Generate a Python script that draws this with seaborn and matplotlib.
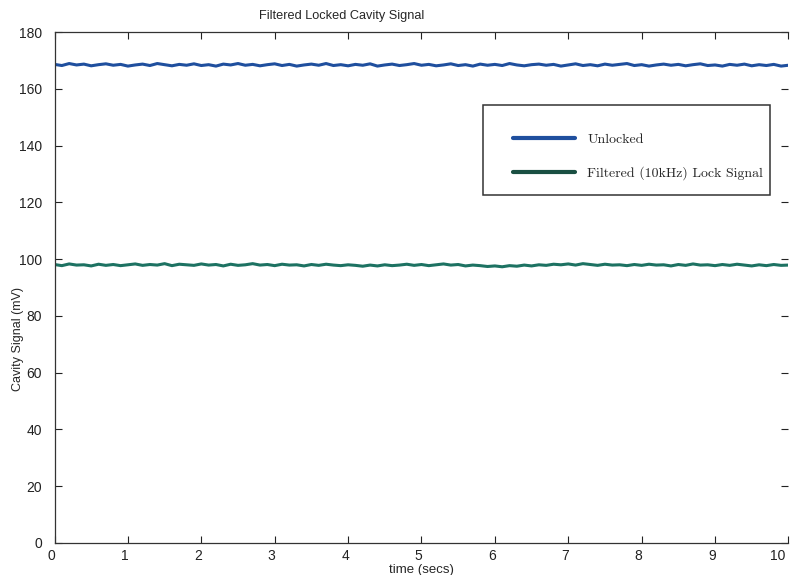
import matplotlib
matplotlib.use("Agg")
import matplotlib.pyplot as plt
from matplotlib.patches import Rectangle
import matplotlib.transforms as mtransforms
import seaborn as sns
import pandas as pd

# ---- data ----
time_s = [i / 10 for i in range(101)]

unlocked_mV = [
    168.6, 168.2, 168.9, 168.4, 168.7, 168.1, 168.5, 168.8, 168.3, 168.6,
    168.0, 168.4, 168.7, 168.2, 168.9, 168.5, 168.1, 168.6, 168.3, 168.8,
    168.2, 168.5, 168.0, 168.7, 168.4, 168.9, 168.3, 168.6, 168.1, 168.5,
    168.8, 168.2, 168.6, 168.0, 168.4, 168.7, 168.3, 168.9, 168.2, 168.5,
    168.1, 168.6, 168.3, 168.8, 168.0, 168.4, 168.7, 168.2, 168.5, 168.9,
    168.3, 168.6, 168.1, 168.4, 168.8, 168.2, 168.5, 168.0, 168.7, 168.3,
    168.6, 168.2, 168.9, 168.4, 168.1, 168.5, 168.7, 168.3, 168.6, 168.0,
    168.4, 168.8, 168.2, 168.5, 168.1, 168.7, 168.3, 168.6, 168.9, 168.2,
    168.5, 168.0, 168.4, 168.7, 168.3, 168.6, 168.1, 168.5, 168.8, 168.2,
    168.4, 168.0, 168.6, 168.3, 168.7, 168.1, 168.5, 168.2, 168.6, 168.0, 168.3,
]

locked_mV = [
    98.1, 97.7, 98.3, 97.9, 98.0, 97.6, 98.2, 97.8, 98.1, 97.7,
    98.0, 98.3, 97.8, 98.1, 97.9, 98.4, 97.7, 98.2, 98.0, 97.8,
    98.3, 97.9, 98.1, 97.6, 98.2, 97.8, 98.0, 98.4, 97.9, 98.1,
    97.7, 98.2, 97.9, 98.0, 97.6, 98.1, 97.8, 98.2, 97.9, 97.7,
    98.0, 97.8, 97.5, 97.9, 97.6, 98.0, 97.7, 97.9, 98.2, 97.8,
    98.1, 97.7, 98.0, 98.3, 97.9, 98.1, 97.6, 97.9, 97.7, 97.4,
    97.6, 97.3, 97.7, 97.5, 97.9, 97.6, 98.0, 97.8, 98.2, 98.0,
    98.3, 97.9, 98.4, 98.1, 97.8, 98.2, 97.9, 98.0, 97.7, 98.1,
    97.8, 98.2, 97.9, 98.0, 97.6, 98.1, 97.8, 98.3, 97.9, 98.0,
    97.7, 98.1, 97.8, 98.2, 97.9, 97.6, 98.0, 97.7, 98.1, 97.8, 97.9,
]

series_names = ["Unlocked", "Filtered (10kHz) Lock Signal"]
series_colors = ["#1f4f9e", "#1d7262"]
legend_colors = ["#1f4f9e", "#1a4f42"]
x_ticks = list(range(0, 11))
y_ticks = list(range(0, 181, 20))

df = pd.concat([
    pd.DataFrame({"time": time_s, "signal": unlocked_mV, "series": series_names[0]}),
    pd.DataFrame({"time": time_s, "signal": locked_mV, "series": series_names[1]}),
])

sns.set_theme(style="ticks")
plt.rcParams["font.family"] = ["Liberation Sans", "DejaVu Sans"]

fig = plt.figure(figsize=(7.9, 5.75), dpi=100)
ax = fig.add_axes([0.069, 0.0557, 0.929, 0.8886])

sns.lineplot(data=df, x="time", y="signal", hue="series", hue_order=series_names,
             palette=series_colors, linewidth=2.2, ax=ax, legend=True,
             estimator=None, sort=False)

ax.set_xlim(0, 10)
ax.set_ylim(0, 180)
ax.set_xticks(x_ticks)
ax.set_yticks(y_ticks)
ax.tick_params(direction="in", length=5, width=0.8, top=True, right=True,
               labelsize=10, colors="#222222")
ax.tick_params(axis="y", pad=9)
ax.tick_params(axis="x", pad=4)
for s in ax.spines.values():
    s.set_linewidth(0.9)
    s.set_color("#333333")
ax.spines["right"].set_visible(False)

# x tick labels sit slightly left of their ticks in the reference
shift = mtransforms.ScaledTranslation(-3 / 100, 0, fig.dpi_scale_trans)
xlabels = ax.get_xticklabels()
for lab in xlabels:
    lab.set_transform(lab.get_transform() + shift)
xlabels[-1].set_horizontalalignment("right")

ax.set_xlabel("time (secs)", fontsize=9.5, labelpad=1)
ax.set_ylabel("Cavity Signal (mV)", fontsize=9)
ax.yaxis.set_label_coords(-0.0415, 0.40)
fig.text(0.432, 0.972, "Filtered Locked Cavity Signal", ha="center", va="center", fontsize=9.2)

# legend frame drawn as a box in axes coordinates
x0 = (483 - 54.5) / 734
x1 = (770 - 54.5) / 734
box = Rectangle((x0, 0.681), x1 - x0, 0.176, transform=ax.transAxes,
                facecolor="white", edgecolor="#333333", linewidth=1.1, zorder=4)
ax.add_patch(box)

handles, labels = ax.get_legend_handles_labels()
leg = ax.legend(handles, labels, loc="upper left",
                bbox_to_anchor=((513 - 54.5) / 734, 0.802),
                frameon=False, prop={"family": "cmr10", "size": 10},
                handlelength=4.5, handletextpad=0.85, borderpad=0,
                labelspacing=1.45, borderaxespad=0)
leg.set_zorder(5)
for line, c in zip(leg.get_lines(), legend_colors):
    line.set_linewidth(3)
    line.set_color(c)

fig.savefig("out.png", dpi=100)
